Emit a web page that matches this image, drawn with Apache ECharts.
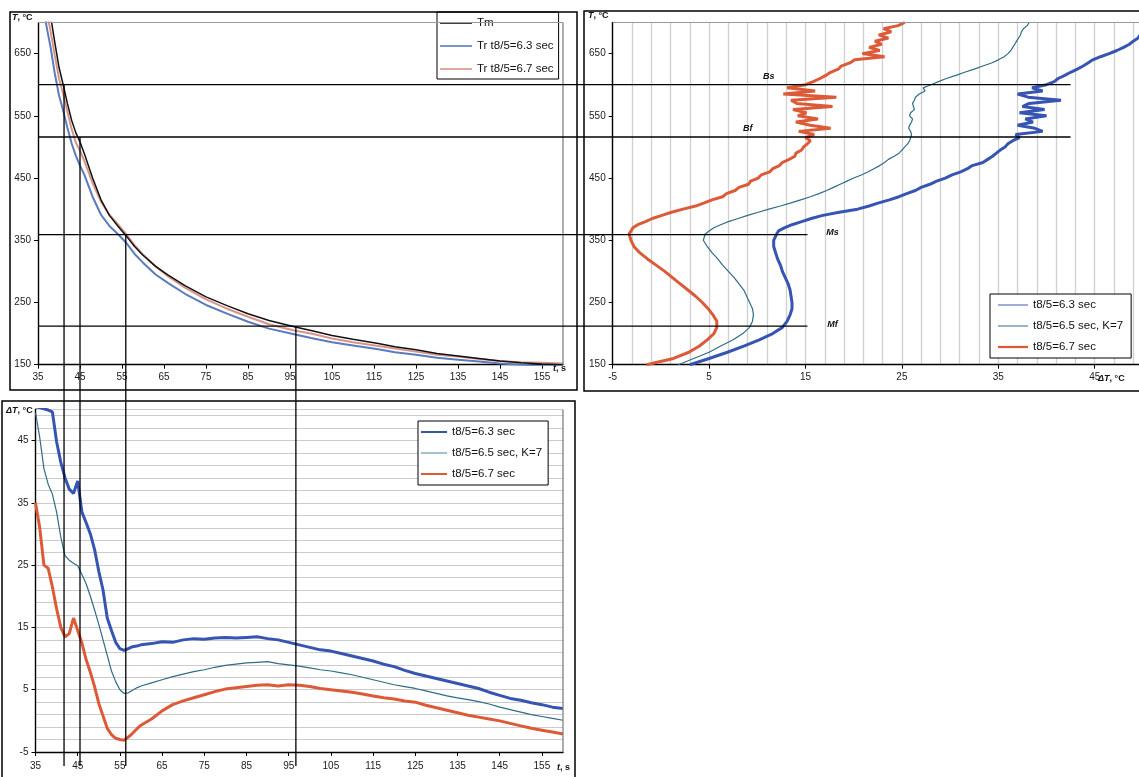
<!DOCTYPE html>
<html><head><meta charset="utf-8">
<script src="https://cdn.jsdelivr.net/npm/echarts@6/dist/echarts.min.js"></script>
<style>html,body{margin:0;padding:0;background:#fff}#c{width:1139px;height:777px}</style>
</head><body><div id="c"></div>
<script>
// ---------- Top-left panel: temperature vs time ----------
const timeA = [36,37,38,39,40,41,42,43,44,45, 46,48,50,52,54,56,58,60,63,66, 70,75,80,85,90,96,100,105,110,116, 120,125,130,135,140,145,150,155,160];
const tempTm = [790,745,710,668,628,600,570,543,523,508, 490,450,415,390,373,357,340,326,308,294, 277,259,245,232,221,211,205,197,191,184, 179,174,168,164,160,156,153,151,150];
const tempTr63 = [740,695,660,618,583,558,531,506,486,470, 456,420,391,373,360,346,328,314,295,281, 264,246,232,219,208,199,193,186,181,175, 170,166,161,158,155,152,150,148,148];
const tempTr67 = [759,720,686,647,610,585,557,529,507,494, 478,442,412,391,376,360,342,327,308,292, 274,255,240,227,215,205,200,192,186,180, 176,171,166,163,159,156,154,153,152];

// ---------- Right panel: temperature levels and ΔT ----------
const tempLevels = [700,695,690,685,680,675,670,665,660,655,
  650,645,640,635,630,625,620,615,610,605,
  600,595,590,585,580,575,570,565,560,555,
  550,545,540,535,530,525,520,515,510,505,
  500,495,490,485,480,475,470,465,460,455,
  450,445,440,435,430,425,420,415,410,405,
  400,395,390,385,380,375,370,365,360,350,
  340,330,320,310,300,290,280,270,260,250,
  240,230,220,210,200,190,180,170,160,150];
const dTr63 = [51.5,51.0,50.5,50.1,49.7,49.5,49.0,48.6,48.0,47.3,
  46.5,45.6,44.8,44.3,43.8,43.2,42.5,41.9,41.2,40.8,
  40.0,38.5,39.6,37.0,38.1,41.5,38.2,37.5,39.8,37.2,
  40.0,37.8,38.6,37.0,38.8,39.6,36.8,37.2,36.5,36.0,
  35.7,35.2,34.8,34.4,33.9,33.4,32.3,31.8,31.1,30.2,
  29.5,28.6,27.9,27.0,26.4,25.5,24.7,23.7,22.6,21.6,
  20.4,18.5,16.8,15.6,14.6,13.6,12.8,12.2,12.0,11.7,
  11.7,11.9,12.1,12.4,12.6,12.9,13.2,13.4,13.5,13.6,
  13.6,13.4,13.1,12.6,11.6,10.2,8.6,6.9,5.0,3.0];
const dTr65 = [38.2,38.0,37.6,37.4,37.3,37.1,36.9,36.7,36.5,36.3,
  36.0,35.6,35.0,34.3,33.4,32.5,31.5,30.6,29.6,28.8,
  28.0,27.2,27.4,26.8,26.4,26.3,26.1,26.2,26.3,25.9,
  25.8,26.1,26.0,25.8,25.7,25.9,26.0,25.9,25.8,25.6,
  25.3,25.0,24.7,24.2,23.6,23.2,22.7,22.1,21.5,20.8,
  20.0,19.3,18.6,17.9,17.2,16.4,15.5,14.5,13.5,12.4,
  11.2,10.1,9.0,8.0,7.0,6.2,5.5,5.0,4.6,4.4,
  4.8,5.3,5.9,6.4,7.0,7.6,8.1,8.6,8.9,9.2,
  9.5,9.6,9.5,9.2,8.5,7.5,6.2,5.0,3.4,1.8];
const dTr67 = [25.3,24.6,23.1,23.9,22.6,23.6,22.2,22.9,21.6,22.7,
  20.9,23.2,20.1,19.6,18.7,18.4,17.6,17.1,16.5,15.8,
  15.0,13.1,16.0,12.7,18.2,13.5,14.1,17.8,13.7,15.1,
  14.2,16.3,14.0,15.5,17.6,14.3,15.9,15.0,15.5,15.2,
  14.8,14.6,14.0,13.9,13.3,12.6,12.3,11.6,11.3,10.4,
  10.1,9.3,9.1,8.1,7.7,6.8,6.4,5.3,4.5,3.6,
  2.3,1.1,0.1,-0.9,-1.6,-2.4,-2.9,-3.1,-3.3,-3.1,
  -2.8,-2.2,-1.4,-0.5,0.4,1.2,2.0,2.8,3.6,4.3,
  4.9,5.4,5.8,5.8,5.5,4.8,4.0,2.9,1.3,-1.5];

// ---------- Bottom panel: ΔT vs time ----------
const timeB = [35,36,37,38,39,40,41,42,43,44,
  45,46,47,48,49,50,51,52,53,54,
  55,56,57,58,59,60,62.5,65,67.5,70,
  72.5,75,77.5,80,82.5,85,87.5,90,92.5,95,
  97.5,100,102.5,105,107.5,110,112.5,115,117.5,120,
  122.5,125,127.5,130,132.5,135,137.5,140,142.5,145,
  147.5,150,152.5,155,157.5,160];
const dTb63 = [50.4,50.3,50.1,49.9,49.6,44.8,41.5,39.0,37.2,36.5,
  38.5,33.5,31.8,30.0,27.5,24.0,21.0,16.5,14.5,12.6,
  11.6,11.3,11.6,11.9,12.0,12.2,12.4,12.7,12.6,13.0,
  13.2,13.1,13.3,13.4,13.3,13.4,13.5,13.2,13.0,12.6,
  12.2,11.8,11.4,11.2,10.8,10.4,10.0,9.6,9.1,8.7,
  8.1,7.6,7.2,6.8,6.4,6.0,5.6,5.2,4.6,4.1,
  3.6,3.3,2.9,2.6,2.2,2.0];
const dTb65 = [49.5,45.5,40.5,38.0,36.4,33.5,29.5,26.5,25.8,25.3,
  24.9,23.5,22.0,20.0,17.8,15.5,13.0,10.5,8.0,6.3,
  5.0,4.4,4.5,4.9,5.3,5.6,6.1,6.6,7.1,7.5,
  7.9,8.2,8.6,8.9,9.1,9.3,9.4,9.5,9.2,9.0,
  8.8,8.5,8.2,8.0,7.7,7.4,7.0,6.6,6.2,5.8,
  5.5,5.2,4.8,4.4,4.0,3.7,3.4,3.1,2.7,2.2,
  1.8,1.4,1.0,0.7,0.4,0.1];
const dTb67 = [35.0,31.0,25.0,24.5,21.5,18.0,15.0,13.5,14.0,16.5,
  14.5,12.5,9.8,7.8,5.5,2.8,0.8,-1.2,-2.2,-2.8,
  -3.0,-3.1,-2.6,-2.0,-1.3,-0.7,0.3,1.6,2.6,3.2,
  3.7,4.2,4.7,5.1,5.3,5.5,5.7,5.8,5.6,5.8,
  5.7,5.5,5.2,5.0,4.8,4.6,4.3,4.0,3.7,3.5,
  3.2,3.0,2.5,2.1,1.7,1.3,0.9,0.6,0.3,0.0,
  -0.4,-0.8,-1.2,-1.5,-1.8,-2.1];

// ---------- Transformation reference marks ----------
const refNames = ['Bs','Bf','Ms','Mf'];
const refTemps = [600,516,359,212];
const refTimes = [41.2,45.0,55.9,96.4];
const refEndDT = [42.5,42.5,15.2,15.2];
const refLabelDT = [11.2,9.0,17.8,17.8];

// ---------- Names ----------
const namesTL = ['Tm','Tr t8/5=6.3 sec','Tr t8/5=6.7 sec'];
const namesDT = ['t8/5=6.3 sec','t8/5=6.5 sec, K=7','t8/5=6.7 sec'];

const FONT = '"Liberation Sans", Arial, Helvetica, sans-serif';
const C_BLACK = '#111', C_TRB = '#5a7bbd', C_TRR = '#d9948a';
const C_B = '#3654b2', C_T = '#2f6c85', C_R = '#dd5a38';

const axLine = {show:true, onZero:false, lineStyle:{color:'#000', width:1.4}};
const axTick = {show:true, inside:false, length:4, lineStyle:{color:'#000', width:1}};
function lab(m){ return {fontFamily:FONT, fontSize:10, color:'#1a1a1a', margin:m, showMaxLabel:false}; }
const gray = {color:'#cbcbcb', width:1};
const ICON_THIN = 'path://M0,0H40V1.3H0Z';
const ICON_MID = 'path://M0,0H40V2H0Z';
const ICON_THICK = 'path://M0,0H40V3H0Z';

function pairs(xs, ys){ return xs.map((x,i)=>[x, ys[i]]); }
function line(name, data, color, w, xi){
  return {name, type:'line', xAxisIndex:xi, yAxisIndex:xi, data, symbol:'none', showSymbol:false,
    clip:true, lineStyle:{color, width:w}, itemStyle:{color}, emphasis:{disabled:true}, z:3};
}
function legendBox(left, top, iw, gap, fs, items, pad){
  return {orient:'vertical', left, top, itemWidth:iw, itemHeight:10, itemGap:gap, padding:pad,
    backgroundColor:'#fff', borderColor:'#000', borderWidth:1, selectedMode:false, symbolKeepAspect:true,
    textStyle:{fontFamily:FONT, fontSize:fs, color:'#111'}, data:items};
}

const chart = echarts.init(document.getElementById('c'));
const option = {
  animation:false,
  backgroundColor:'#fff',
  textStyle:{fontFamily:FONT},
  grid:[
    {left:38, top:22.5, width:525, height:342.2, containLabel:false, outerBoundsMode:'none'},
    {left:612.7, top:22.5, width:530.2, height:342.2, containLabel:false, outerBoundsMode:'none'},
    {left:35.5, top:409.4, width:527.5, height:342.6, containLabel:false, outerBoundsMode:'none'}
  ],
  xAxis:[
    {gridIndex:0, type:'value', min:35, max:160, interval:10, axisLine:axLine, axisTick:axTick, axisLabel:lab(8), splitLine:{show:false}},
    {gridIndex:1, type:'value', min:-5, max:50, interval:10, axisLine:axLine, axisTick:axTick, axisLabel:lab(8),
      splitLine:{show:true, lineStyle:{color:'#d0d0d0', width:1.3}}, minorTick:{show:false, splitNumber:5},
      minorSplitLine:{show:true, lineStyle:{color:'#d0d0d0', width:1.3}}},
    {gridIndex:2, type:'value', min:35, max:160, interval:10, axisLine:axLine, axisTick:axTick, axisLabel:lab(9), splitLine:{show:false}}
  ],
  yAxis:[
    {gridIndex:0, type:'value', min:150, max:700, interval:100, axisLine:axLine, axisTick:axTick, axisLabel:lab(7), splitLine:{show:false}},
    {gridIndex:1, type:'value', min:150, max:700, interval:100, axisLine:axLine, axisTick:axTick, axisLabel:lab(7), splitLine:{show:false}},
    {gridIndex:2, type:'value', min:-5, max:50, interval:10, axisLine:axLine, axisTick:axTick, axisLabel:lab(7),
      splitLine:{show:true, lineStyle:gray}, minorTick:{show:false, splitNumber:5}, minorSplitLine:{show:true, lineStyle:gray}}
  ],
  legend:[
    legendBox(437, 12, 32, 11, 11.5, [
      {name:namesTL[0], icon:ICON_MID}, {name:namesTL[1], icon:ICON_MID}, {name:namesTL[2], icon:ICON_MID}], [5,5,4,3]),
    legendBox(990, 294, 30, 9, 11.5, [
      {name:namesDT[0], icon:ICON_THIN}, {name:namesDT[1], icon:ICON_THIN}, {name:namesDT[2], icon:ICON_THICK}], [5,8,5,8]),
    legendBox(418, 421, 26, 9, 11.5, [
      {name:namesDT[0], icon:ICON_THICK}, {name:namesDT[1], icon:ICON_THIN}, {name:namesDT[2], icon:ICON_THICK}], [5,6,5,3])
  ],
  series:[
    line(namesTL[1], pairs(timeA, tempTr63), C_TRB, 2, 0),
    line(namesTL[2], pairs(timeA, tempTr67), C_TRR, 2, 0),
    line(namesTL[0], pairs(timeA, tempTm), C_BLACK, 1.5, 0),
    line(namesDT[0], pairs(dTr63, tempLevels), C_B, 3, 1),
    line(namesDT[1], pairs(dTr65, tempLevels), C_T, 1.2, 1),
    line(namesDT[2], pairs(dTr67, tempLevels), C_R, 3, 1),
    line(namesDT[0], pairs(timeB, dTb63), C_B, 3, 2),
    line(namesDT[1], pairs(timeB, dTb65), C_T, 1.2, 2),
    line(namesDT[2], pairs(timeB, dTb67), C_R, 3, 2)
  ]
};
chart.setOption(option);

const P = (g, x, y) => chart.convertToPixel({gridIndex:g}, [x, y]);
const g = [];
const BL = {stroke:'#000', lineWidth:1.3};
// panel frames
g.push({type:'rect', shape:{x:10, y:12, width:567, height:378}, style:{fill:null, stroke:'#000', lineWidth:1.5}, z:20, silent:true});
g.push({type:'rect', shape:{x:584, y:11, width:570, height:380}, style:{fill:null, stroke:'#000', lineWidth:1.5}, z:20, silent:true});
g.push({type:'rect', shape:{x:2, y:401, width:573, height:390}, style:{fill:null, stroke:'#000', lineWidth:1.5}, z:20, silent:true});
// plot-area upper and right borders (gray)
const a0 = P(0,35,700), b0 = P(0,160,150);
g.push({type:'line', shape:{x1:a0[0], y1:a0[1], x2:b0[0], y2:a0[1]}, style:{stroke:'#9a9a9a', lineWidth:1.2}, z:5});
g.push({type:'line', shape:{x1:b0[0], y1:a0[1], x2:b0[0], y2:b0[1]}, style:{stroke:'#777', lineWidth:1.2}, z:5});
const a1 = P(1,-5,700), b1 = P(1,50,150);
g.push({type:'line', shape:{x1:a1[0], y1:a1[1], x2:b1[0], y2:a1[1]}, style:{stroke:'#9a9a9a', lineWidth:1.2}, z:5});
const a2 = P(2,35,50), b2 = P(2,160,-5);
g.push({type:'line', shape:{x1:b2[0], y1:a2[1], x2:b2[0], y2:b2[1]}, style:{stroke:'#777', lineWidth:1.2}, z:5});
// reference lines
for (let i = 0; i < refNames.length; i++) {
  const s = P(0, 35, refTemps[i]);
  const e = P(1, refEndDT[i], refTemps[i]);
  g.push({type:'line', shape:{x1:s[0], y1:s[1], x2:e[0], y2:s[1]}, style:BL, z:10});
  const v = P(0, refTimes[i], refTemps[i]);
  g.push({type:'line', shape:{x1:v[0], y1:v[1], x2:v[0], y2:b2[1] + 14}, style:BL, z:10});
  const l = P(1, refLabelDT[i], refTemps[i]);
  const dy = (i < 2) ? -8 : -2;
  g.push({type:'text', x:l[0], y:l[1] + dy, style:{text:refNames[i], font:'italic bold 9px ' + FONT, fill:'#111', align:'center', verticalAlign:'middle'}, z:12});
}
// axis titles
function title(x, y, main, rest){
  return {type:'text', x, y, z:12, style:{text:'{i|' + main + '}' + rest, fill:'#111', font:'bold 9px ' + FONT,
    verticalAlign:'middle', rich:{i:{fontStyle:'italic', fontWeight:'bold', fontSize:9, fontFamily:FONT}}}};
}
g.push(title(12, 18, 'T', ', °C'));
g.push(title(553, 369, 't', ', s'));
g.push(title(588, 16, 'T', ', °C'));
g.push(title(1098, 379, 'ΔT', ', °C'));
g.push(title(6, 411, 'ΔT', ', °C'));
g.push(title(557, 768, 't', ', s'));
chart.setOption({graphic:g});
</script>
</body></html>
